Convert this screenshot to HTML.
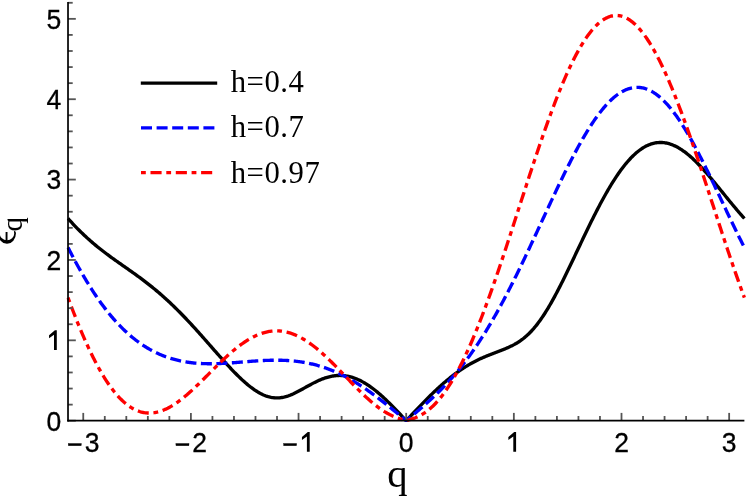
<!DOCTYPE html>
<html><head><meta charset="utf-8"><title>chart</title>
<style>
html,body{margin:0;padding:0;background:#fff;}
svg{display:block;will-change:transform}
text{font-family:"Liberation Sans",sans-serif;fill:#000}
.serif text, text.serif{font-family:"Liberation Serif",serif}
</style></head><body>
<svg width="747" height="496" viewBox="0 0 747 496">
<rect width="747" height="496" fill="#fff"/>
<defs><clipPath id="clip"><rect x="66.41" y="0" width="679.58" height="422.20"/></clipPath></defs>
<g clip-path="url(#clip)" fill="none" stroke-width="3.35" stroke-linejoin="round">
<path d="M68.01 218.49 L68.98 219.56 L69.94 220.63 L70.91 221.69 L71.88 222.73 L72.85 223.77 L73.81 224.80 L74.78 225.81 L75.75 226.82 L76.72 227.82 L77.68 228.81 L78.65 229.78 L79.62 230.75 L80.59 231.70 L81.55 232.65 L82.52 233.58 L83.49 234.51 L84.46 235.42 L85.43 236.33 L86.39 237.22 L87.36 238.11 L88.33 238.98 L89.30 239.85 L90.26 240.70 L91.23 241.55 L92.20 242.39 L93.17 243.22 L94.13 244.04 L95.10 244.85 L96.07 245.65 L97.04 246.44 L98.00 247.23 L98.97 248.01 L99.94 248.78 L100.91 249.54 L101.88 250.30 L102.84 251.05 L103.81 251.79 L104.78 252.53 L105.75 253.26 L106.71 253.99 L107.68 254.71 L108.65 255.42 L109.62 256.13 L110.58 256.84 L111.55 257.54 L112.52 258.24 L113.49 258.94 L114.45 259.63 L115.42 260.32 L116.39 261.00 L117.36 261.69 L118.33 262.37 L119.29 263.05 L120.26 263.73 L121.23 264.41 L122.20 265.08 L123.16 265.76 L124.13 266.44 L125.10 267.12 L126.07 267.79 L127.03 268.47 L128.00 269.15 L128.97 269.83 L129.94 270.51 L130.90 271.20 L131.87 271.88 L132.84 272.57 L133.81 273.26 L134.78 273.96 L135.74 274.65 L136.71 275.35 L137.68 276.06 L138.65 276.76 L139.61 277.47 L140.58 278.19 L141.55 278.91 L142.52 279.63 L143.48 280.36 L144.45 281.10 L145.42 281.84 L146.39 282.58 L147.35 283.33 L148.32 284.09 L149.29 284.85 L150.26 285.62 L151.23 286.39 L152.19 287.17 L153.16 287.95 L154.13 288.75 L155.10 289.54 L156.06 290.35 L157.03 291.16 L158.00 291.98 L158.97 292.81 L159.93 293.64 L160.90 294.48 L161.87 295.32 L162.84 296.18 L163.80 297.04 L164.77 297.91 L165.74 298.78 L166.71 299.66 L167.68 300.55 L168.64 301.45 L169.61 302.35 L170.58 303.26 L171.55 304.18 L172.51 305.11 L173.48 306.04 L174.45 306.98 L175.42 307.93 L176.38 308.88 L177.35 309.84 L178.32 310.81 L179.29 311.78 L180.25 312.76 L181.22 313.75 L182.19 314.74 L183.16 315.74 L184.13 316.74 L185.09 317.76 L186.06 318.77 L187.03 319.80 L188.00 320.83 L188.96 321.86 L189.93 322.90 L190.90 323.94 L191.87 324.99 L192.83 326.05 L193.80 327.11 L194.77 328.17 L195.74 329.24 L196.70 330.31 L197.67 331.39 L198.64 332.47 L199.61 333.55 L200.58 334.64 L201.54 335.73 L202.51 336.82 L203.48 337.91 L204.45 339.01 L205.41 340.10 L206.38 341.20 L207.35 342.30 L208.32 343.41 L209.28 344.51 L210.25 345.61 L211.22 346.71 L212.19 347.82 L213.15 348.92 L214.12 350.02 L215.09 351.12 L216.06 352.22 L217.03 353.32 L217.99 354.41 L218.96 355.50 L219.93 356.59 L220.90 357.68 L221.86 358.76 L222.83 359.84 L223.80 360.91 L224.77 361.98 L225.73 363.04 L226.70 364.10 L227.67 365.15 L228.64 366.20 L229.60 367.23 L230.57 368.26 L231.54 369.28 L232.51 370.30 L233.48 371.30 L234.44 372.30 L235.41 373.28 L236.38 374.26 L237.35 375.22 L238.31 376.17 L239.28 377.11 L240.25 378.04 L241.22 378.95 L242.18 379.85 L243.15 380.74 L244.12 381.61 L245.09 382.46 L246.05 383.30 L247.02 384.12 L247.99 384.93 L248.96 385.71 L249.93 386.48 L250.89 387.23 L251.86 387.96 L252.83 388.67 L253.80 389.36 L254.76 390.02 L255.73 390.66 L256.70 391.28 L257.67 391.88 L258.63 392.45 L259.60 393.00 L260.57 393.52 L261.54 394.01 L262.50 394.48 L263.47 394.92 L264.44 395.33 L265.41 395.71 L266.38 396.06 L267.34 396.39 L268.31 396.68 L269.28 396.94 L270.25 397.18 L271.21 397.38 L272.18 397.55 L273.15 397.68 L274.12 397.79 L275.08 397.86 L276.05 397.91 L277.02 397.92 L277.99 397.90 L278.95 397.84 L279.92 397.76 L280.89 397.65 L281.86 397.50 L282.83 397.33 L283.79 397.13 L284.76 396.90 L285.73 396.64 L286.70 396.36 L287.66 396.05 L288.63 395.72 L289.60 395.36 L290.57 394.99 L291.53 394.59 L292.50 394.17 L293.47 393.74 L294.44 393.28 L295.40 392.82 L296.37 392.34 L297.34 391.84 L298.31 391.34 L299.28 390.82 L300.24 390.30 L301.21 389.77 L302.18 389.24 L303.15 388.70 L304.11 388.16 L305.08 387.61 L306.05 387.07 L307.02 386.53 L307.98 385.99 L308.95 385.46 L309.92 384.92 L310.89 384.40 L311.85 383.88 L312.82 383.37 L313.79 382.87 L314.76 382.38 L315.73 381.90 L316.69 381.43 L317.66 380.98 L318.63 380.54 L319.60 380.11 L320.56 379.70 L321.53 379.30 L322.50 378.92 L323.47 378.56 L324.43 378.21 L325.40 377.89 L326.37 377.58 L327.34 377.29 L328.30 377.02 L329.27 376.77 L330.24 376.54 L331.21 376.33 L332.18 376.15 L333.14 375.98 L334.11 375.84 L335.08 375.72 L336.05 375.62 L337.01 375.54 L337.98 375.49 L338.95 375.46 L339.92 375.45 L340.88 375.46 L341.85 375.50 L342.82 375.56 L343.79 375.65 L344.75 375.75 L345.72 375.89 L346.69 376.04 L347.66 376.22 L348.63 376.42 L349.59 376.64 L350.56 376.89 L351.53 377.16 L352.50 377.45 L353.46 377.77 L354.43 378.11 L355.40 378.47 L356.37 378.85 L357.33 379.26 L358.30 379.69 L359.27 380.13 L360.24 380.60 L361.20 381.10 L362.17 381.61 L363.14 382.14 L364.11 382.69 L365.08 383.27 L366.04 383.86 L367.01 384.47 L367.98 385.10 L368.95 385.75 L369.91 386.42 L370.88 387.11 L371.85 387.81 L372.82 388.53 L373.78 389.27 L374.75 390.03 L375.72 390.80 L376.69 391.58 L377.65 392.39 L378.62 393.20 L379.59 394.03 L380.56 394.88 L381.53 395.74 L382.49 396.61 L383.46 397.49 L384.43 398.39 L385.40 399.30 L386.36 400.22 L387.33 401.15 L388.30 402.09 L389.27 403.04 L390.23 404.00 L391.20 404.97 L392.17 405.94 L393.14 406.93 L394.10 407.92 L395.07 408.92 L396.04 409.92 L397.01 410.93 L397.98 411.94 L398.94 412.96 L399.91 413.99 L400.88 415.01 L401.85 416.04 L402.81 417.08 L403.78 418.11 L404.75 419.15 L405.72 420.18 L406.68 420.18 L407.65 419.15 L408.62 418.11 L409.59 417.07 L410.55 416.04 L411.52 415.01 L412.49 413.98 L413.46 412.95 L414.42 411.92 L415.39 410.89 L416.36 409.87 L417.33 408.85 L418.30 407.83 L419.26 406.82 L420.23 405.81 L421.20 404.81 L422.17 403.80 L423.13 402.81 L424.10 401.82 L425.07 400.83 L426.04 399.85 L427.00 398.87 L427.97 397.90 L428.94 396.94 L429.91 395.98 L430.87 395.02 L431.84 394.08 L432.81 393.14 L433.78 392.21 L434.75 391.29 L435.71 390.37 L436.68 389.46 L437.65 388.56 L438.62 387.67 L439.58 386.78 L440.55 385.91 L441.52 385.04 L442.49 384.19 L443.45 383.34 L444.42 382.50 L445.39 381.67 L446.36 380.85 L447.32 380.04 L448.29 379.24 L449.26 378.45 L450.23 377.67 L451.20 376.90 L452.16 376.14 L453.13 375.39 L454.10 374.65 L455.07 373.92 L456.03 373.21 L457.00 372.50 L457.97 371.81 L458.94 371.12 L459.90 370.45 L460.87 369.79 L461.84 369.14 L462.81 368.50 L463.77 367.87 L464.74 367.25 L465.71 366.65 L466.68 366.05 L467.65 365.47 L468.61 364.89 L469.58 364.33 L470.55 363.78 L471.52 363.24 L472.48 362.71 L473.45 362.19 L474.42 361.68 L475.39 361.18 L476.35 360.69 L477.32 360.21 L478.29 359.74 L479.26 359.27 L480.22 358.82 L481.19 358.38 L482.16 357.94 L483.13 357.51 L484.10 357.09 L485.06 356.68 L486.03 356.27 L487.00 355.87 L487.97 355.48 L488.93 355.09 L489.90 354.71 L490.87 354.33 L491.84 353.95 L492.80 353.58 L493.77 353.21 L494.74 352.85 L495.71 352.48 L496.67 352.12 L497.64 351.75 L498.61 351.38 L499.58 351.02 L500.55 350.65 L501.51 350.27 L502.48 349.89 L503.45 349.51 L504.42 349.12 L505.38 348.72 L506.35 348.31 L507.32 347.90 L508.29 347.47 L509.25 347.03 L510.22 346.58 L511.19 346.11 L512.16 345.63 L513.12 345.13 L514.09 344.62 L515.06 344.08 L516.03 343.53 L517.00 342.95 L517.96 342.35 L518.93 341.73 L519.90 341.08 L520.87 340.40 L521.83 339.70 L522.80 338.97 L523.77 338.21 L524.74 337.42 L525.70 336.60 L526.67 335.74 L527.64 334.86 L528.61 333.94 L529.57 332.99 L530.54 332.00 L531.51 330.98 L532.48 329.92 L533.45 328.83 L534.41 327.70 L535.38 326.53 L536.35 325.33 L537.32 324.10 L538.28 322.83 L539.25 321.52 L540.22 320.18 L541.19 318.81 L542.15 317.40 L543.12 315.96 L544.09 314.48 L545.06 312.98 L546.02 311.44 L546.99 309.87 L547.96 308.28 L548.93 306.65 L549.90 305.00 L550.86 303.32 L551.83 301.61 L552.80 299.88 L553.77 298.12 L554.73 296.34 L555.70 294.54 L556.67 292.72 L557.64 290.87 L558.60 289.01 L559.57 287.13 L560.54 285.23 L561.51 283.32 L562.47 281.39 L563.44 279.45 L564.41 277.49 L565.38 275.52 L566.35 273.54 L567.31 271.55 L568.28 269.55 L569.25 267.55 L570.22 265.53 L571.18 263.51 L572.15 261.48 L573.12 259.45 L574.09 257.42 L575.05 255.38 L576.02 253.34 L576.99 251.30 L577.96 249.25 L578.92 247.21 L579.89 245.17 L580.86 243.14 L581.83 241.10 L582.80 239.07 L583.76 237.05 L584.73 235.03 L585.70 233.02 L586.67 231.01 L587.63 229.01 L588.60 227.02 L589.57 225.04 L590.54 223.07 L591.50 221.11 L592.47 219.17 L593.44 217.23 L594.41 215.31 L595.37 213.40 L596.34 211.51 L597.31 209.63 L598.28 207.77 L599.25 205.92 L600.21 204.09 L601.18 202.28 L602.15 200.48 L603.12 198.71 L604.08 196.95 L605.05 195.22 L606.02 193.50 L606.99 191.81 L607.95 190.14 L608.92 188.49 L609.89 186.86 L610.86 185.25 L611.82 183.67 L612.79 182.12 L613.76 180.59 L614.73 179.08 L615.70 177.60 L616.66 176.14 L617.63 174.72 L618.60 173.31 L619.57 171.94 L620.53 170.59 L621.50 169.28 L622.47 167.99 L623.44 166.73 L624.40 165.50 L625.37 164.29 L626.34 163.12 L627.31 161.98 L628.27 160.87 L629.24 159.79 L630.21 158.74 L631.18 157.72 L632.15 156.73 L633.11 155.78 L634.08 154.86 L635.05 153.96 L636.02 153.11 L636.98 152.28 L637.95 151.49 L638.92 150.73 L639.89 150.00 L640.85 149.31 L641.82 148.65 L642.79 148.02 L643.76 147.43 L644.72 146.87 L645.69 146.34 L646.66 145.85 L647.63 145.39 L648.60 144.96 L649.56 144.57 L650.53 144.21 L651.50 143.89 L652.47 143.60 L653.43 143.34 L654.40 143.12 L655.37 142.93 L656.34 142.77 L657.30 142.64 L658.27 142.55 L659.24 142.49 L660.21 142.47 L661.17 142.48 L662.14 142.52 L663.11 142.59 L664.08 142.69 L665.05 142.83 L666.01 142.99 L666.98 143.19 L667.95 143.42 L668.92 143.68 L669.88 143.97 L670.85 144.29 L671.82 144.64 L672.79 145.01 L673.75 145.42 L674.72 145.86 L675.69 146.32 L676.66 146.82 L677.62 147.34 L678.59 147.88 L679.56 148.46 L680.53 149.06 L681.50 149.68 L682.46 150.33 L683.43 151.01 L684.40 151.71 L685.37 152.43 L686.33 153.18 L687.30 153.95 L688.27 154.74 L689.24 155.56 L690.20 156.39 L691.17 157.25 L692.14 158.12 L693.11 159.02 L694.07 159.93 L695.04 160.87 L696.01 161.82 L696.98 162.78 L697.95 163.77 L698.91 164.77 L699.88 165.78 L700.85 166.82 L701.82 167.86 L702.78 168.92 L703.75 169.99 L704.72 171.07 L705.69 172.16 L706.65 173.27 L707.62 174.39 L708.59 175.51 L709.56 176.64 L710.52 177.79 L711.49 178.94 L712.46 180.09 L713.43 181.26 L714.40 182.43 L715.36 183.60 L716.33 184.78 L717.30 185.96 L718.27 187.15 L719.23 188.34 L720.20 189.53 L721.17 190.72 L722.14 191.92 L723.10 193.11 L724.07 194.31 L725.04 195.50 L726.01 196.69 L726.97 197.88 L727.94 199.07 L728.91 200.26 L729.88 201.44 L730.85 202.62 L731.81 203.79 L732.78 204.96 L733.75 206.13 L734.72 207.28 L735.68 208.44 L736.65 209.58 L737.62 210.72 L738.59 211.86 L739.55 212.98 L740.52 214.10 L741.49 215.21 L742.46 216.31 L743.42 217.40 L744.39 218.49" stroke="#000"/>
<path d="M68.01 247.48 L68.98 249.36 L69.94 251.24 L70.91 253.09 L71.88 254.94 L72.85 256.77 L73.81 258.58 L74.78 260.39 L75.75 262.18 L76.72 263.95 L77.68 265.71 L78.65 267.45 L79.62 269.18 L80.59 270.89 L81.55 272.58 L82.52 274.26 L83.49 275.92 L84.46 277.57 L85.43 279.20 L86.39 280.81 L87.36 282.40 L88.33 283.98 L89.30 285.54 L90.26 287.09 L91.23 288.61 L92.20 290.12 L93.17 291.61 L94.13 293.08 L95.10 294.54 L96.07 295.98 L97.04 297.40 L98.00 298.80 L98.97 300.18 L99.94 301.55 L100.91 302.90 L101.88 304.23 L102.84 305.54 L103.81 306.84 L104.78 308.11 L105.75 309.37 L106.71 310.61 L107.68 311.84 L108.65 313.05 L109.62 314.24 L110.58 315.41 L111.55 316.56 L112.52 317.70 L113.49 318.82 L114.45 319.92 L115.42 321.01 L116.39 322.08 L117.36 323.13 L118.33 324.16 L119.29 325.18 L120.26 326.18 L121.23 327.17 L122.20 328.14 L123.16 329.09 L124.13 330.03 L125.10 330.95 L126.07 331.85 L127.03 332.74 L128.00 333.61 L128.97 334.47 L129.94 335.31 L130.90 336.14 L131.87 336.95 L132.84 337.75 L133.81 338.53 L134.78 339.29 L135.74 340.05 L136.71 340.78 L137.68 341.50 L138.65 342.21 L139.61 342.91 L140.58 343.59 L141.55 344.25 L142.52 344.90 L143.48 345.54 L144.45 346.17 L145.42 346.78 L146.39 347.38 L147.35 347.96 L148.32 348.53 L149.29 349.09 L150.26 349.64 L151.23 350.17 L152.19 350.69 L153.16 351.20 L154.13 351.69 L155.10 352.18 L156.06 352.65 L157.03 353.11 L158.00 353.55 L158.97 353.99 L159.93 354.41 L160.90 354.83 L161.87 355.23 L162.84 355.62 L163.80 356.00 L164.77 356.37 L165.74 356.72 L166.71 357.07 L167.68 357.41 L168.64 357.73 L169.61 358.05 L170.58 358.35 L171.55 358.65 L172.51 358.93 L173.48 359.21 L174.45 359.48 L175.42 359.73 L176.38 359.98 L177.35 360.22 L178.32 360.45 L179.29 360.67 L180.25 360.88 L181.22 361.08 L182.19 361.27 L183.16 361.46 L184.13 361.64 L185.09 361.80 L186.06 361.97 L187.03 362.12 L188.00 362.26 L188.96 362.40 L189.93 362.53 L190.90 362.65 L191.87 362.77 L192.83 362.87 L193.80 362.97 L194.77 363.07 L195.74 363.15 L196.70 363.24 L197.67 363.31 L198.64 363.38 L199.61 363.44 L200.58 363.49 L201.54 363.54 L202.51 363.59 L203.48 363.62 L204.45 363.66 L205.41 363.68 L206.38 363.70 L207.35 363.72 L208.32 363.73 L209.28 363.74 L210.25 363.74 L211.22 363.74 L212.19 363.73 L213.15 363.72 L214.12 363.70 L215.09 363.68 L216.06 363.66 L217.03 363.63 L217.99 363.60 L218.96 363.56 L219.93 363.52 L220.90 363.48 L221.86 363.44 L222.83 363.39 L223.80 363.34 L224.77 363.29 L225.73 363.23 L226.70 363.17 L227.67 363.11 L228.64 363.05 L229.60 362.99 L230.57 362.92 L231.54 362.85 L232.51 362.78 L233.48 362.71 L234.44 362.64 L235.41 362.56 L236.38 362.49 L237.35 362.41 L238.31 362.34 L239.28 362.26 L240.25 362.18 L241.22 362.11 L242.18 362.03 L243.15 361.95 L244.12 361.87 L245.09 361.79 L246.05 361.72 L247.02 361.64 L247.99 361.56 L248.96 361.49 L249.93 361.41 L250.89 361.34 L251.86 361.27 L252.83 361.19 L253.80 361.12 L254.76 361.06 L255.73 360.99 L256.70 360.92 L257.67 360.86 L258.63 360.80 L259.60 360.74 L260.57 360.68 L261.54 360.63 L262.50 360.58 L263.47 360.53 L264.44 360.48 L265.41 360.44 L266.38 360.40 L267.34 360.36 L268.31 360.33 L269.28 360.30 L270.25 360.27 L271.21 360.25 L272.18 360.23 L273.15 360.21 L274.12 360.20 L275.08 360.19 L276.05 360.19 L277.02 360.19 L277.99 360.20 L278.95 360.21 L279.92 360.22 L280.89 360.24 L281.86 360.27 L282.83 360.30 L283.79 360.33 L284.76 360.37 L285.73 360.42 L286.70 360.47 L287.66 360.53 L288.63 360.59 L289.60 360.65 L290.57 360.73 L291.53 360.81 L292.50 360.89 L293.47 360.98 L294.44 361.08 L295.40 361.19 L296.37 361.30 L297.34 361.41 L298.31 361.54 L299.28 361.67 L300.24 361.80 L301.21 361.95 L302.18 362.10 L303.15 362.26 L304.11 362.42 L305.08 362.59 L306.05 362.77 L307.02 362.96 L307.98 363.15 L308.95 363.35 L309.92 363.56 L310.89 363.78 L311.85 364.00 L312.82 364.23 L313.79 364.47 L314.76 364.71 L315.73 364.97 L316.69 365.23 L317.66 365.50 L318.63 365.78 L319.60 366.06 L320.56 366.36 L321.53 366.66 L322.50 366.97 L323.47 367.29 L324.43 367.61 L325.40 367.95 L326.37 368.29 L327.34 368.64 L328.30 369.00 L329.27 369.36 L330.24 369.74 L331.21 370.12 L332.18 370.51 L333.14 370.91 L334.11 371.32 L335.08 371.74 L336.05 372.16 L337.01 372.59 L337.98 373.03 L338.95 373.48 L339.92 373.94 L340.88 374.41 L341.85 374.88 L342.82 375.36 L343.79 375.85 L344.75 376.35 L345.72 376.86 L346.69 377.37 L347.66 377.89 L348.63 378.42 L349.59 378.96 L350.56 379.50 L351.53 380.06 L352.50 380.62 L353.46 381.19 L354.43 381.76 L355.40 382.35 L356.37 382.94 L357.33 383.54 L358.30 384.14 L359.27 384.75 L360.24 385.37 L361.20 386.00 L362.17 386.63 L363.14 387.27 L364.11 387.92 L365.08 388.58 L366.04 389.24 L367.01 389.90 L367.98 390.58 L368.95 391.26 L369.91 391.94 L370.88 392.63 L371.85 393.33 L372.82 394.03 L373.78 394.74 L374.75 395.46 L375.72 396.17 L376.69 396.90 L377.65 397.63 L378.62 398.36 L379.59 399.10 L380.56 399.85 L381.53 400.60 L382.49 401.35 L383.46 402.11 L384.43 402.87 L385.40 403.63 L386.36 404.40 L387.33 405.17 L388.30 405.95 L389.27 406.73 L390.23 407.51 L391.20 408.29 L392.17 409.08 L393.14 409.87 L394.10 410.66 L395.07 411.46 L396.04 412.25 L397.01 413.05 L397.98 413.85 L398.94 414.66 L399.91 415.46 L400.88 416.26 L401.85 417.07 L402.81 417.87 L403.78 418.68 L404.75 419.49 L405.72 420.30 L406.68 420.30 L407.65 419.49 L408.62 418.68 L409.59 417.87 L410.55 417.06 L411.52 416.25 L412.49 415.44 L413.46 414.62 L414.42 413.81 L415.39 412.99 L416.36 412.17 L417.33 411.34 L418.30 410.51 L419.26 409.68 L420.23 408.85 L421.20 408.01 L422.17 407.17 L423.13 406.32 L424.10 405.47 L425.07 404.61 L426.04 403.75 L427.00 402.88 L427.97 402.01 L428.94 401.13 L429.91 400.24 L430.87 399.35 L431.84 398.45 L432.81 397.54 L433.78 396.63 L434.75 395.70 L435.71 394.77 L436.68 393.84 L437.65 392.89 L438.62 391.94 L439.58 390.97 L440.55 390.00 L441.52 389.02 L442.49 388.03 L443.45 387.03 L444.42 386.02 L445.39 385.00 L446.36 383.97 L447.32 382.93 L448.29 381.88 L449.26 380.81 L450.23 379.74 L451.20 378.65 L452.16 377.56 L453.13 376.45 L454.10 375.33 L455.07 374.20 L456.03 373.06 L457.00 371.90 L457.97 370.73 L458.94 369.55 L459.90 368.36 L460.87 367.16 L461.84 365.94 L462.81 364.70 L463.77 363.46 L464.74 362.20 L465.71 360.93 L466.68 359.65 L467.65 358.35 L468.61 357.03 L469.58 355.71 L470.55 354.37 L471.52 353.01 L472.48 351.65 L473.45 350.26 L474.42 348.87 L475.39 347.46 L476.35 346.03 L477.32 344.59 L478.29 343.14 L479.26 341.67 L480.22 340.19 L481.19 338.70 L482.16 337.19 L483.13 335.66 L484.10 334.12 L485.06 332.57 L486.03 331.01 L487.00 329.42 L487.97 327.83 L488.93 326.22 L489.90 324.60 L490.87 322.96 L491.84 321.31 L492.80 319.64 L493.77 317.96 L494.74 316.27 L495.71 314.56 L496.67 312.85 L497.64 311.11 L498.61 309.37 L499.58 307.61 L500.55 305.84 L501.51 304.05 L502.48 302.25 L503.45 300.45 L504.42 298.62 L505.38 296.79 L506.35 294.94 L507.32 293.09 L508.29 291.22 L509.25 289.34 L510.22 287.45 L511.19 285.54 L512.16 283.63 L513.12 281.71 L514.09 279.78 L515.06 277.83 L516.03 275.88 L517.00 273.92 L517.96 271.95 L518.93 269.97 L519.90 267.98 L520.87 265.98 L521.83 263.98 L522.80 261.97 L523.77 259.95 L524.74 257.92 L525.70 255.89 L526.67 253.85 L527.64 251.80 L528.61 249.75 L529.57 247.70 L530.54 245.64 L531.51 243.57 L532.48 241.50 L533.45 239.43 L534.41 237.35 L535.38 235.27 L536.35 233.19 L537.32 231.10 L538.28 229.02 L539.25 226.93 L540.22 224.84 L541.19 222.75 L542.15 220.66 L543.12 218.57 L544.09 216.48 L545.06 214.39 L546.02 212.31 L546.99 210.22 L547.96 208.14 L548.93 206.06 L549.90 203.98 L550.86 201.91 L551.83 199.84 L552.80 197.78 L553.77 195.72 L554.73 193.67 L555.70 191.62 L556.67 189.58 L557.64 187.55 L558.60 185.52 L559.57 183.51 L560.54 181.50 L561.51 179.50 L562.47 177.51 L563.44 175.52 L564.41 173.55 L565.38 171.59 L566.35 169.64 L567.31 167.71 L568.28 165.78 L569.25 163.87 L570.22 161.97 L571.18 160.09 L572.15 158.22 L573.12 156.36 L574.09 154.52 L575.05 152.69 L576.02 150.88 L576.99 149.09 L577.96 147.31 L578.92 145.55 L579.89 143.81 L580.86 142.09 L581.83 140.39 L582.80 138.70 L583.76 137.04 L584.73 135.40 L585.70 133.77 L586.67 132.17 L587.63 130.59 L588.60 129.03 L589.57 127.50 L590.54 125.98 L591.50 124.49 L592.47 123.03 L593.44 121.59 L594.41 120.17 L595.37 118.78 L596.34 117.41 L597.31 116.07 L598.28 114.75 L599.25 113.47 L600.21 112.21 L601.18 110.97 L602.15 109.77 L603.12 108.59 L604.08 107.44 L605.05 106.32 L606.02 105.23 L606.99 104.16 L607.95 103.13 L608.92 102.13 L609.89 101.16 L610.86 100.22 L611.82 99.31 L612.79 98.43 L613.76 97.58 L614.73 96.77 L615.70 95.99 L616.66 95.24 L617.63 94.52 L618.60 93.84 L619.57 93.18 L620.53 92.57 L621.50 91.98 L622.47 91.43 L623.44 90.92 L624.40 90.43 L625.37 89.99 L626.34 89.57 L627.31 89.20 L628.27 88.85 L629.24 88.55 L630.21 88.27 L631.18 88.03 L632.15 87.83 L633.11 87.67 L634.08 87.53 L635.05 87.44 L636.02 87.38 L636.98 87.36 L637.95 87.37 L638.92 87.41 L639.89 87.50 L640.85 87.62 L641.82 87.77 L642.79 87.96 L643.76 88.19 L644.72 88.46 L645.69 88.75 L646.66 89.09 L647.63 89.46 L648.60 89.86 L649.56 90.31 L650.53 90.78 L651.50 91.29 L652.47 91.84 L653.43 92.42 L654.40 93.04 L655.37 93.69 L656.34 94.38 L657.30 95.10 L658.27 95.85 L659.24 96.64 L660.21 97.47 L661.17 98.32 L662.14 99.21 L663.11 100.13 L664.08 101.09 L665.05 102.07 L666.01 103.09 L666.98 104.15 L667.95 105.23 L668.92 106.34 L669.88 107.49 L670.85 108.66 L671.82 109.87 L672.79 111.10 L673.75 112.37 L674.72 113.66 L675.69 114.98 L676.66 116.33 L677.62 117.71 L678.59 119.11 L679.56 120.55 L680.53 122.00 L681.50 123.49 L682.46 125.00 L683.43 126.53 L684.40 128.09 L685.37 129.67 L686.33 131.28 L687.30 132.91 L688.27 134.56 L689.24 136.23 L690.20 137.92 L691.17 139.64 L692.14 141.37 L693.11 143.13 L694.07 144.90 L695.04 146.69 L696.01 148.50 L696.98 150.33 L697.95 152.17 L698.91 154.03 L699.88 155.90 L700.85 157.79 L701.82 159.69 L702.78 161.61 L703.75 163.54 L704.72 165.48 L705.69 167.43 L706.65 169.39 L707.62 171.36 L708.59 173.34 L709.56 175.33 L710.52 177.33 L711.49 179.34 L712.46 181.35 L713.43 183.37 L714.40 185.40 L715.36 187.43 L716.33 189.46 L717.30 191.50 L718.27 193.54 L719.23 195.58 L720.20 197.62 L721.17 199.67 L722.14 201.71 L723.10 203.76 L724.07 205.80 L725.04 207.84 L726.01 209.88 L726.97 211.92 L727.94 213.95 L728.91 215.98 L729.88 218.01 L730.85 220.03 L731.81 222.04 L732.78 224.05 L733.75 226.05 L734.72 228.04 L735.68 230.03 L736.65 232.01 L737.62 233.98 L738.59 235.94 L739.55 237.89 L740.52 239.83 L741.49 241.76 L742.46 243.68 L743.42 245.59 L744.39 247.48" stroke="#0000ff" stroke-dasharray="11 4.5"/>
<path d="M68.01 297.69 L68.98 300.30 L69.94 302.88 L70.91 305.45 L71.88 307.99 L72.85 310.51 L73.81 313.01 L74.78 315.48 L75.75 317.93 L76.72 320.36 L77.68 322.76 L78.65 325.14 L79.62 327.48 L80.59 329.81 L81.55 332.10 L82.52 334.37 L83.49 336.62 L84.46 338.83 L85.43 341.01 L86.39 343.17 L87.36 345.30 L88.33 347.40 L89.30 349.47 L90.26 351.51 L91.23 353.52 L92.20 355.50 L93.17 357.44 L94.13 359.36 L95.10 361.24 L96.07 363.10 L97.04 364.92 L98.00 366.71 L98.97 368.46 L99.94 370.19 L100.91 371.88 L101.88 373.54 L102.84 375.16 L103.81 376.75 L104.78 378.31 L105.75 379.83 L106.71 381.32 L107.68 382.78 L108.65 384.20 L109.62 385.59 L110.58 386.94 L111.55 388.26 L112.52 389.54 L113.49 390.79 L114.45 392.01 L115.42 393.19 L116.39 394.33 L117.36 395.44 L118.33 396.52 L119.29 397.56 L120.26 398.57 L121.23 399.54 L122.20 400.48 L123.16 401.38 L124.13 402.25 L125.10 403.08 L126.07 403.88 L127.03 404.64 L128.00 405.37 L128.97 406.06 L129.94 406.73 L130.90 407.35 L131.87 407.95 L132.84 408.51 L133.81 409.03 L134.78 409.52 L135.74 409.98 L136.71 410.41 L137.68 410.80 L138.65 411.16 L139.61 411.49 L140.58 411.79 L141.55 412.05 L142.52 412.29 L143.48 412.49 L144.45 412.66 L145.42 412.80 L146.39 412.91 L147.35 412.98 L148.32 413.03 L149.29 413.05 L150.26 413.04 L151.23 413.00 L152.19 412.93 L153.16 412.83 L154.13 412.71 L155.10 412.56 L156.06 412.37 L157.03 412.17 L158.00 411.93 L158.97 411.67 L159.93 411.39 L160.90 411.07 L161.87 410.74 L162.84 410.38 L163.80 409.99 L164.77 409.58 L165.74 409.15 L166.71 408.69 L167.68 408.22 L168.64 407.72 L169.61 407.19 L170.58 406.65 L171.55 406.09 L172.51 405.51 L173.48 404.90 L174.45 404.28 L175.42 403.64 L176.38 402.98 L177.35 402.30 L178.32 401.61 L179.29 400.90 L180.25 400.17 L181.22 399.43 L182.19 398.67 L183.16 397.90 L184.13 397.11 L185.09 396.31 L186.06 395.49 L187.03 394.67 L188.00 393.83 L188.96 392.98 L189.93 392.12 L190.90 391.25 L191.87 390.36 L192.83 389.47 L193.80 388.57 L194.77 387.66 L195.74 386.75 L196.70 385.82 L197.67 384.89 L198.64 383.96 L199.61 383.02 L200.58 382.07 L201.54 381.12 L202.51 380.16 L203.48 379.20 L204.45 378.24 L205.41 377.27 L206.38 376.31 L207.35 375.34 L208.32 374.37 L209.28 373.40 L210.25 372.43 L211.22 371.46 L212.19 370.49 L213.15 369.53 L214.12 368.56 L215.09 367.60 L216.06 366.65 L217.03 365.69 L217.99 364.74 L218.96 363.80 L219.93 362.86 L220.90 361.92 L221.86 361.00 L222.83 360.07 L223.80 359.16 L224.77 358.25 L225.73 357.36 L226.70 356.47 L227.67 355.58 L228.64 354.71 L229.60 353.85 L230.57 353.00 L231.54 352.16 L232.51 351.33 L233.48 350.51 L234.44 349.71 L235.41 348.91 L236.38 348.13 L237.35 347.36 L238.31 346.61 L239.28 345.87 L240.25 345.14 L241.22 344.43 L242.18 343.73 L243.15 343.05 L244.12 342.39 L245.09 341.74 L246.05 341.10 L247.02 340.48 L247.99 339.88 L248.96 339.30 L249.93 338.74 L250.89 338.19 L251.86 337.66 L252.83 337.15 L253.80 336.65 L254.76 336.18 L255.73 335.73 L256.70 335.29 L257.67 334.87 L258.63 334.48 L259.60 334.10 L260.57 333.74 L261.54 333.41 L262.50 333.09 L263.47 332.79 L264.44 332.52 L265.41 332.26 L266.38 332.03 L267.34 331.82 L268.31 331.63 L269.28 331.46 L270.25 331.31 L271.21 331.18 L272.18 331.08 L273.15 330.99 L274.12 330.93 L275.08 330.89 L276.05 330.87 L277.02 330.87 L277.99 330.90 L278.95 330.94 L279.92 331.01 L280.89 331.10 L281.86 331.21 L282.83 331.34 L283.79 331.50 L284.76 331.67 L285.73 331.87 L286.70 332.09 L287.66 332.33 L288.63 332.59 L289.60 332.87 L290.57 333.17 L291.53 333.50 L292.50 333.84 L293.47 334.21 L294.44 334.59 L295.40 335.00 L296.37 335.42 L297.34 335.87 L298.31 336.33 L299.28 336.82 L300.24 337.32 L301.21 337.84 L302.18 338.38 L303.15 338.94 L304.11 339.52 L305.08 340.11 L306.05 340.73 L307.02 341.36 L307.98 342.00 L308.95 342.67 L309.92 343.35 L310.89 344.05 L311.85 344.76 L312.82 345.49 L313.79 346.23 L314.76 346.99 L315.73 347.76 L316.69 348.55 L317.66 349.35 L318.63 350.16 L319.60 350.99 L320.56 351.83 L321.53 352.68 L322.50 353.55 L323.47 354.42 L324.43 355.31 L325.40 356.21 L326.37 357.11 L327.34 358.03 L328.30 358.96 L329.27 359.89 L330.24 360.83 L331.21 361.78 L332.18 362.74 L333.14 363.71 L334.11 364.68 L335.08 365.66 L336.05 366.64 L337.01 367.63 L337.98 368.62 L338.95 369.62 L339.92 370.62 L340.88 371.63 L341.85 372.63 L342.82 373.64 L343.79 374.65 L344.75 375.66 L345.72 376.67 L346.69 377.69 L347.66 378.70 L348.63 379.71 L349.59 380.72 L350.56 381.72 L351.53 382.73 L352.50 383.73 L353.46 384.72 L354.43 385.72 L355.40 386.70 L356.37 387.69 L357.33 388.66 L358.30 389.63 L359.27 390.60 L360.24 391.55 L361.20 392.50 L362.17 393.44 L363.14 394.37 L364.11 395.29 L365.08 396.21 L366.04 397.11 L367.01 398.00 L367.98 398.87 L368.95 399.74 L369.91 400.60 L370.88 401.44 L371.85 402.26 L372.82 403.08 L373.78 403.88 L374.75 404.66 L375.72 405.43 L376.69 406.18 L377.65 406.92 L378.62 407.64 L379.59 408.34 L380.56 409.02 L381.53 409.69 L382.49 410.34 L383.46 410.97 L384.43 411.59 L385.40 412.18 L386.36 412.75 L387.33 413.31 L388.30 413.84 L389.27 414.36 L390.23 414.86 L391.20 415.33 L392.17 415.79 L393.14 416.23 L394.10 416.65 L395.07 417.05 L396.04 417.44 L397.01 417.81 L397.98 418.16 L398.94 418.50 L399.91 418.82 L400.88 419.13 L401.85 419.43 L402.81 419.72 L403.78 420.01 L404.75 420.29 L405.72 420.56 L406.68 420.56 L407.65 420.29 L408.62 420.01 L409.59 419.72 L410.55 419.42 L411.52 419.11 L412.49 418.79 L413.46 418.45 L414.42 418.09 L415.39 417.72 L416.36 417.32 L417.33 416.89 L418.30 416.45 L419.26 415.97 L420.23 415.47 L421.20 414.94 L422.17 414.38 L423.13 413.80 L424.10 413.18 L425.07 412.53 L426.04 411.85 L427.00 411.14 L427.97 410.39 L428.94 409.62 L429.91 408.80 L430.87 407.96 L431.84 407.08 L432.81 406.17 L433.78 405.23 L434.75 404.25 L435.71 403.24 L436.68 402.19 L437.65 401.10 L438.62 399.99 L439.58 398.84 L440.55 397.65 L441.52 396.43 L442.49 395.17 L443.45 393.88 L444.42 392.56 L445.39 391.20 L446.36 389.81 L447.32 388.38 L448.29 386.92 L449.26 385.42 L450.23 383.89 L451.20 382.32 L452.16 380.73 L453.13 379.09 L454.10 377.43 L455.07 375.73 L456.03 374.00 L457.00 372.23 L457.97 370.43 L458.94 368.60 L459.90 366.74 L460.87 364.85 L461.84 362.92 L462.81 360.96 L463.77 358.97 L464.74 356.95 L465.71 354.90 L466.68 352.82 L467.65 350.71 L468.61 348.57 L469.58 346.41 L470.55 344.21 L471.52 341.98 L472.48 339.73 L473.45 337.45 L474.42 335.14 L475.39 332.80 L476.35 330.44 L477.32 328.05 L478.29 325.63 L479.26 323.19 L480.22 320.73 L481.19 318.24 L482.16 315.73 L483.13 313.19 L484.10 310.63 L485.06 308.05 L486.03 305.45 L487.00 302.83 L487.97 300.18 L488.93 297.52 L489.90 294.83 L490.87 292.13 L491.84 289.41 L492.80 286.67 L493.77 283.91 L494.74 281.13 L495.71 278.34 L496.67 275.53 L497.64 272.71 L498.61 269.88 L499.58 267.03 L500.55 264.16 L501.51 261.29 L502.48 258.40 L503.45 255.50 L504.42 252.59 L505.38 249.67 L506.35 246.74 L507.32 243.80 L508.29 240.85 L509.25 237.90 L510.22 234.93 L511.19 231.97 L512.16 228.99 L513.12 226.02 L514.09 223.03 L515.06 220.05 L516.03 217.06 L517.00 214.07 L517.96 211.08 L518.93 208.08 L519.90 205.09 L520.87 202.10 L521.83 199.11 L522.80 196.12 L523.77 193.13 L524.74 190.15 L525.70 187.17 L526.67 184.20 L527.64 181.23 L528.61 178.27 L529.57 175.31 L530.54 172.36 L531.51 169.42 L532.48 166.49 L533.45 163.57 L534.41 160.66 L535.38 157.77 L536.35 154.88 L537.32 152.00 L538.28 149.14 L539.25 146.30 L540.22 143.46 L541.19 140.65 L542.15 137.85 L543.12 135.06 L544.09 132.29 L545.06 129.55 L546.02 126.82 L546.99 124.10 L547.96 121.41 L548.93 118.74 L549.90 116.09 L550.86 113.47 L551.83 110.86 L552.80 108.28 L553.77 105.73 L554.73 103.19 L555.70 100.69 L556.67 98.20 L557.64 95.75 L558.60 93.32 L559.57 90.92 L560.54 88.55 L561.51 86.21 L562.47 83.89 L563.44 81.61 L564.41 79.36 L565.38 77.13 L566.35 74.94 L567.31 72.79 L568.28 70.66 L569.25 68.57 L570.22 66.51 L571.18 64.49 L572.15 62.50 L573.12 60.55 L574.09 58.63 L575.05 56.75 L576.02 54.90 L576.99 53.10 L577.96 51.33 L578.92 49.60 L579.89 47.90 L580.86 46.25 L581.83 44.64 L582.80 43.06 L583.76 41.53 L584.73 40.04 L585.70 38.58 L586.67 37.17 L587.63 35.80 L588.60 34.48 L589.57 33.19 L590.54 31.95 L591.50 30.75 L592.47 29.60 L593.44 28.49 L594.41 27.42 L595.37 26.40 L596.34 25.42 L597.31 24.49 L598.28 23.60 L599.25 22.75 L600.21 21.96 L601.18 21.20 L602.15 20.50 L603.12 19.84 L604.08 19.22 L605.05 18.65 L606.02 18.13 L606.99 17.66 L607.95 17.23 L608.92 16.85 L609.89 16.51 L610.86 16.23 L611.82 15.99 L612.79 15.79 L613.76 15.65 L614.73 15.55 L615.70 15.50 L616.66 15.49 L617.63 15.53 L618.60 15.62 L619.57 15.76 L620.53 15.95 L621.50 16.18 L622.47 16.46 L623.44 16.78 L624.40 17.15 L625.37 17.57 L626.34 18.04 L627.31 18.55 L628.27 19.11 L629.24 19.71 L630.21 20.37 L631.18 21.06 L632.15 21.81 L633.11 22.60 L634.08 23.43 L635.05 24.31 L636.02 25.23 L636.98 26.20 L637.95 27.21 L638.92 28.27 L639.89 29.37 L640.85 30.52 L641.82 31.71 L642.79 32.94 L643.76 34.21 L644.72 35.53 L645.69 36.88 L646.66 38.28 L647.63 39.73 L648.60 41.21 L649.56 42.73 L650.53 44.29 L651.50 45.90 L652.47 47.54 L653.43 49.22 L654.40 50.94 L655.37 52.69 L656.34 54.49 L657.30 56.32 L658.27 58.19 L659.24 60.10 L660.21 62.04 L661.17 64.01 L662.14 66.02 L663.11 68.07 L664.08 70.15 L665.05 72.26 L666.01 74.40 L666.98 76.58 L667.95 78.79 L668.92 81.02 L669.88 83.29 L670.85 85.59 L671.82 87.92 L672.79 90.28 L673.75 92.66 L674.72 95.08 L675.69 97.51 L676.66 99.98 L677.62 102.47 L678.59 104.99 L679.56 107.53 L680.53 110.09 L681.50 112.68 L682.46 115.29 L683.43 117.92 L684.40 120.57 L685.37 123.25 L686.33 125.94 L687.30 128.65 L688.27 131.38 L689.24 134.13 L690.20 136.90 L691.17 139.68 L692.14 142.48 L693.11 145.29 L694.07 148.12 L695.04 150.96 L696.01 153.81 L696.98 156.68 L697.95 159.55 L698.91 162.44 L699.88 165.34 L700.85 168.25 L701.82 171.17 L702.78 174.09 L703.75 177.02 L704.72 179.96 L705.69 182.91 L706.65 185.86 L707.62 188.81 L708.59 191.77 L709.56 194.73 L710.52 197.70 L711.49 200.66 L712.46 203.63 L713.43 206.60 L714.40 209.56 L715.36 212.53 L716.33 215.49 L717.30 218.45 L718.27 221.41 L719.23 224.37 L720.20 227.32 L721.17 230.26 L722.14 233.20 L723.10 236.13 L724.07 239.06 L725.04 241.98 L726.01 244.88 L726.97 247.78 L727.94 250.67 L728.91 253.55 L729.88 256.42 L730.85 259.28 L731.81 262.12 L732.78 264.95 L733.75 267.77 L734.72 270.57 L735.68 273.36 L736.65 276.13 L737.62 278.89 L738.59 281.63 L739.55 284.35 L740.52 287.06 L741.49 289.74 L742.46 292.41 L743.42 295.06 L744.39 297.69" stroke="#ff0000" stroke-dasharray="4.8 4.7 11.1 4.7"/>
</g>
<g stroke="#555" stroke-width="1.8" fill="none">
<line x1="83.25" y1="420.70" x2="83.25" y2="412.90"/><line x1="104.78" y1="420.70" x2="104.78" y2="416.00"/><line x1="126.31" y1="420.70" x2="126.31" y2="416.00"/><line x1="147.84" y1="420.70" x2="147.84" y2="416.00"/><line x1="169.37" y1="420.70" x2="169.37" y2="416.00"/><line x1="190.90" y1="420.70" x2="190.90" y2="412.90"/><line x1="212.43" y1="420.70" x2="212.43" y2="416.00"/><line x1="233.96" y1="420.70" x2="233.96" y2="416.00"/><line x1="255.49" y1="420.70" x2="255.49" y2="416.00"/><line x1="277.02" y1="420.70" x2="277.02" y2="416.00"/><line x1="298.55" y1="420.70" x2="298.55" y2="412.90"/><line x1="320.08" y1="420.70" x2="320.08" y2="416.00"/><line x1="341.61" y1="420.70" x2="341.61" y2="416.00"/><line x1="363.14" y1="420.70" x2="363.14" y2="416.00"/><line x1="384.67" y1="420.70" x2="384.67" y2="416.00"/><line x1="406.20" y1="420.70" x2="406.20" y2="412.90"/><line x1="427.73" y1="420.70" x2="427.73" y2="416.00"/><line x1="449.26" y1="420.70" x2="449.26" y2="416.00"/><line x1="470.79" y1="420.70" x2="470.79" y2="416.00"/><line x1="492.32" y1="420.70" x2="492.32" y2="416.00"/><line x1="513.85" y1="420.70" x2="513.85" y2="412.90"/><line x1="535.38" y1="420.70" x2="535.38" y2="416.00"/><line x1="556.91" y1="420.70" x2="556.91" y2="416.00"/><line x1="578.44" y1="420.70" x2="578.44" y2="416.00"/><line x1="599.97" y1="420.70" x2="599.97" y2="416.00"/><line x1="621.50" y1="420.70" x2="621.50" y2="412.90"/><line x1="643.03" y1="420.70" x2="643.03" y2="416.00"/><line x1="664.56" y1="420.70" x2="664.56" y2="416.00"/><line x1="686.09" y1="420.70" x2="686.09" y2="416.00"/><line x1="707.62" y1="420.70" x2="707.62" y2="416.00"/><line x1="729.15" y1="420.70" x2="729.15" y2="412.90"/><line x1="68.01" y1="420.70" x2="75.81" y2="420.70"/><line x1="68.01" y1="404.63" x2="72.71" y2="404.63"/><line x1="68.01" y1="388.55" x2="72.71" y2="388.55"/><line x1="68.01" y1="372.48" x2="72.71" y2="372.48"/><line x1="68.01" y1="356.40" x2="72.71" y2="356.40"/><line x1="68.01" y1="340.33" x2="75.81" y2="340.33"/><line x1="68.01" y1="324.26" x2="72.71" y2="324.26"/><line x1="68.01" y1="308.18" x2="72.71" y2="308.18"/><line x1="68.01" y1="292.11" x2="72.71" y2="292.11"/><line x1="68.01" y1="276.03" x2="72.71" y2="276.03"/><line x1="68.01" y1="259.96" x2="75.81" y2="259.96"/><line x1="68.01" y1="243.89" x2="72.71" y2="243.89"/><line x1="68.01" y1="227.81" x2="72.71" y2="227.81"/><line x1="68.01" y1="211.74" x2="72.71" y2="211.74"/><line x1="68.01" y1="195.66" x2="72.71" y2="195.66"/><line x1="68.01" y1="179.59" x2="75.81" y2="179.59"/><line x1="68.01" y1="163.52" x2="72.71" y2="163.52"/><line x1="68.01" y1="147.44" x2="72.71" y2="147.44"/><line x1="68.01" y1="131.37" x2="72.71" y2="131.37"/><line x1="68.01" y1="115.29" x2="72.71" y2="115.29"/><line x1="68.01" y1="99.22" x2="75.81" y2="99.22"/><line x1="68.01" y1="83.15" x2="72.71" y2="83.15"/><line x1="68.01" y1="67.07" x2="72.71" y2="67.07"/><line x1="68.01" y1="51.00" x2="72.71" y2="51.00"/><line x1="68.01" y1="34.92" x2="72.71" y2="34.92"/><line x1="68.01" y1="18.85" x2="75.81" y2="18.85"/><line x1="68.01" y1="2.78" x2="72.71" y2="2.78"/>
</g>
<g stroke="#000" stroke-width="1.7" fill="none">
<line x1="67.16" y1="420.70" x2="744.39" y2="420.70"/>
<line x1="68.01" y1="421.50" x2="68.01" y2="1.98"/>
</g>
<g font-size="26.5" stroke="#000" stroke-width="0.3">
<rect x="68.25" y="443.45" width="13.1" height="2.3"/><text transform="translate(92.05,452.30) scale(1,1.07)" text-anchor="middle">3</text><rect x="175.90" y="443.45" width="13.1" height="2.3"/><text transform="translate(199.70,452.30) scale(1,1.07)" text-anchor="middle">2</text><rect x="283.55" y="443.45" width="13.1" height="2.3"/><path stroke="none" d="M309.70 432.10 L309.70 451.80 L306.90 451.80 L306.90 436.50 L301.95 439.90 L301.95 437.10 L307.80 432.10 Z"/><text transform="translate(406.20,452.30) scale(1,1.07)" text-anchor="middle">0</text><path stroke="none" d="M516.10 432.10 L516.10 451.80 L513.30 451.80 L513.30 436.50 L508.35 439.90 L508.35 437.10 L514.20 432.10 Z"/><text transform="translate(621.50,452.30) scale(1,1.07)" text-anchor="middle">2</text><text transform="translate(729.15,452.30) scale(1,1.07)" text-anchor="middle">3</text>
<text transform="translate(61.30,430.60) scale(1,1.07)" text-anchor="end">0</text><path stroke="none" d="M56.80 330.33 L56.80 350.03 L54.00 350.03 L54.00 334.73 L49.05 338.13 L49.05 335.33 L54.90 330.33 Z"/><text transform="translate(61.30,269.86) scale(1,1.07)" text-anchor="end">2</text><text transform="translate(61.30,189.49) scale(1,1.07)" text-anchor="end">3</text><text transform="translate(61.30,109.12) scale(1,1.07)" text-anchor="end">4</text><text transform="translate(61.30,28.75) scale(1,1.07)" text-anchor="end">5</text>
</g>
<g fill="none" stroke-width="3.3">
<line x1="140.8" y1="83.2" x2="217.2" y2="83.2" stroke="#000"/>
<line x1="141" y1="127.9" x2="217" y2="127.9" stroke="#0000ff" stroke-dasharray="11 4.6"/>
<line x1="141" y1="172.6" x2="212.5" y2="172.6" stroke="#ff0000" stroke-dasharray="4.8 4.7 11.1 4.7"/>
</g>
<g class="serif" font-size="30.7" letter-spacing="0.55">
<text x="230.7" y="92.2">h=0.4</text>
<text x="230.7" y="137.4">h=0.7</text>
<text x="230.7" y="182.6">h=0.97</text>
</g>
<g class="serif">
<text transform="translate(397.4,486.6) scale(0.98,0.95)" text-anchor="middle" font-size="41.5">q</text>
<text transform="translate(21.85,231.4) rotate(-90)" font-size="28.8">q</text>
</g>
<path d="M16 233 A9 10.8 0 0 1 -2 233 L-2 231.4 L-0.3 231.4 L-0.2 233.5 A7.2 6.8 0 0 0 14.2 233.5 L13.9 231.2 L15.1 231 Z" fill="#000"/>
<rect x="5.6" y="232" width="1.9" height="9.5" fill="#000"/>
</svg>
</body></html>
